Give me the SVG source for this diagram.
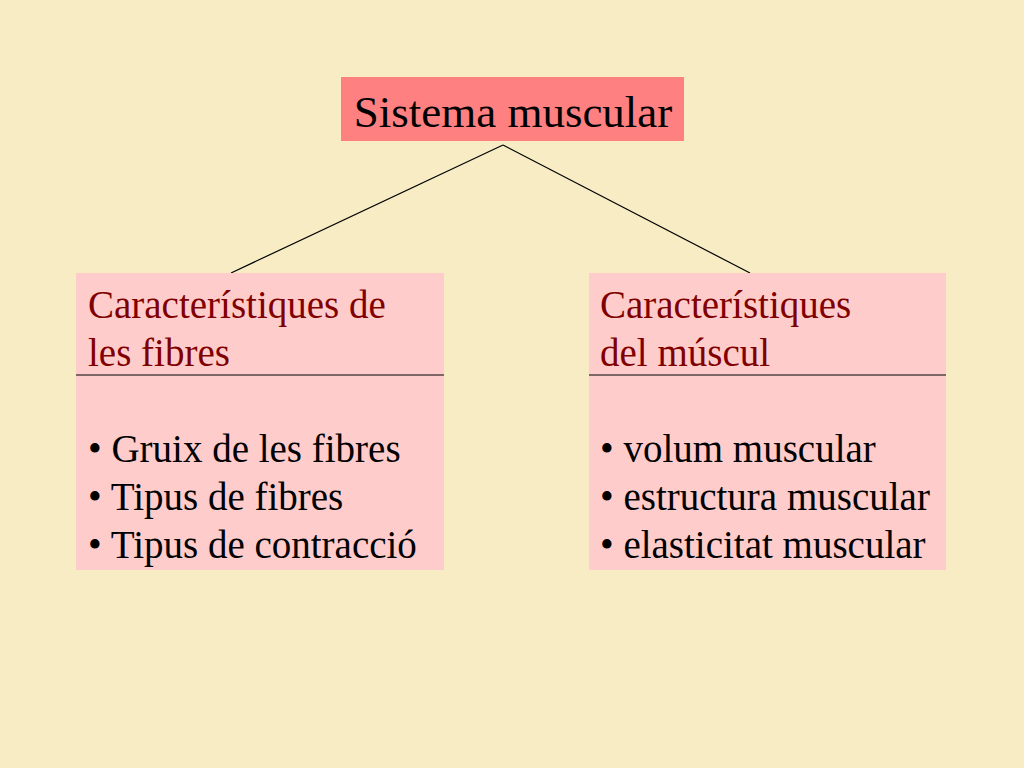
<svg xmlns="http://www.w3.org/2000/svg" width="1024" height="768" viewBox="0 0 1024 768">
<style>
.t{font-family:"Liberation Serif","Times New Roman",serif;font-size:39px}
.h{fill:#800000}
.b{fill:#000}
.box{fill:#ffcccc}
</style>
<rect width="1024" height="768" fill="#f8ecc4"/>
<g id="connectors" stroke="#000" stroke-width="1.2" fill="none">
<line x1="503" y1="145" x2="231" y2="273"/>
<line x1="503" y1="145" x2="750" y2="273"/>
</g>
<g id="root">
<rect x="341" y="77" width="343" height="64" fill="#ff8080"/>
<text x="513" y="127" class="t" text-anchor="middle" style="font-size:45px">Sistema muscular</text>
</g>
<g id="left">
<rect x="76" y="273" width="368" height="297" class="box"/>
<line x1="76" y1="375" x2="444" y2="375" stroke="#000" stroke-width="1.2"/>
<text class="t h" x="88" y="318">Característiques de</text>
<text class="t h" x="88" y="366">les fibres</text>
<text class="t b" x="88" y="462">• Gruix de les fibres</text>
<text class="t b" x="88" y="510">• Tipus de fibres</text>
<text class="t b" x="88" y="558">• Tipus de contracció</text>
</g>
<g id="right">
<rect x="589" y="273" width="357" height="297" class="box"/>
<line x1="589" y1="375" x2="946" y2="375" stroke="#000" stroke-width="1.2"/>
<text class="t h" x="600" y="318">Característiques</text>
<text class="t h" x="600" y="366">del múscul</text>
<text class="t b" x="600" y="462">• volum muscular</text>
<text class="t b" x="600" y="510">• estructura muscular</text>
<text class="t b" x="600" y="558">• elasticitat muscular</text>
</g>
</svg>
